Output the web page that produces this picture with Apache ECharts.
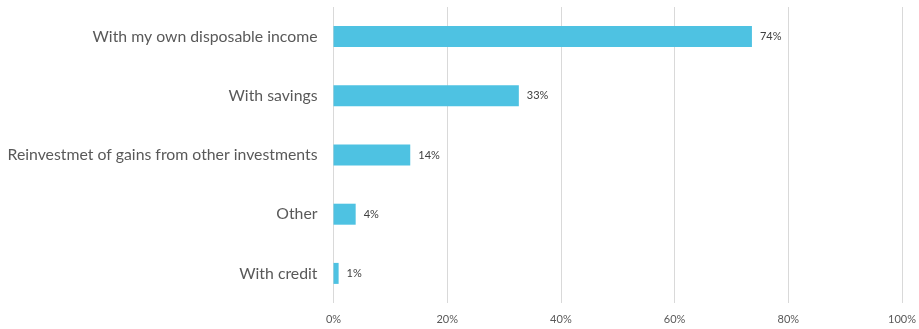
<!DOCTYPE html>
<html>
<head>
<meta charset="utf-8">
<script src="https://cdn.jsdelivr.net/npm/echarts@6/dist/echarts.min.js"></script>
<style>html,body{margin:0;padding:0;background:#fff}#c{width:919px;height:329px}</style>
</head>
<body>
<div id="c"></div>
<script>
var categories = ["With my own disposable income", "With savings", "Reinvestmet of gains from other investments", "Other", "With credit"];
var values = [73.6, 32.6, 13.5, 3.9, 0.9];
var xTicks = [0, 20, 40, 60, 80, 100];

var chart = echarts.init(document.getElementById('c'), null, {renderer: 'canvas'});
var FONT = 'Lato';
chart.setOption({
  animation: false,
  grid: {left: 333.5, right: 13, top: 7, bottom: 26, containLabel: false},
  xAxis: {
    type: 'value', min: xTicks[0], max: xTicks[xTicks.length - 1], interval: 20,
    axisLine: {show: false}, axisTick: {show: false},
    splitLine: {show: true, lineStyle: {color: '#d9d9d9', width: 1}},
    axisLabel: {formatter: '{value}%', color: '#595959', fontSize: 11, fontFamily: FONT, margin: 11}
  },
  yAxis: {
    type: 'category', data: categories, inverse: true,
    axisLine: {show: false}, axisTick: {show: false},
    axisLabel: {color: '#595959', fontSize: 15.8, fontFamily: FONT, margin: 16}
  },
  series: [{
    type: 'bar', data: values, barWidth: 21,
    itemStyle: {color: '#4EC2E2'},
    label: {show: true, position: 'right', distance: 8, color: '#404040', fontSize: 11, fontFamily: FONT,
      formatter: function (p) { return Math.round(p.value) + '%'; }}
  }]
});
</script>
</body>
</html>
